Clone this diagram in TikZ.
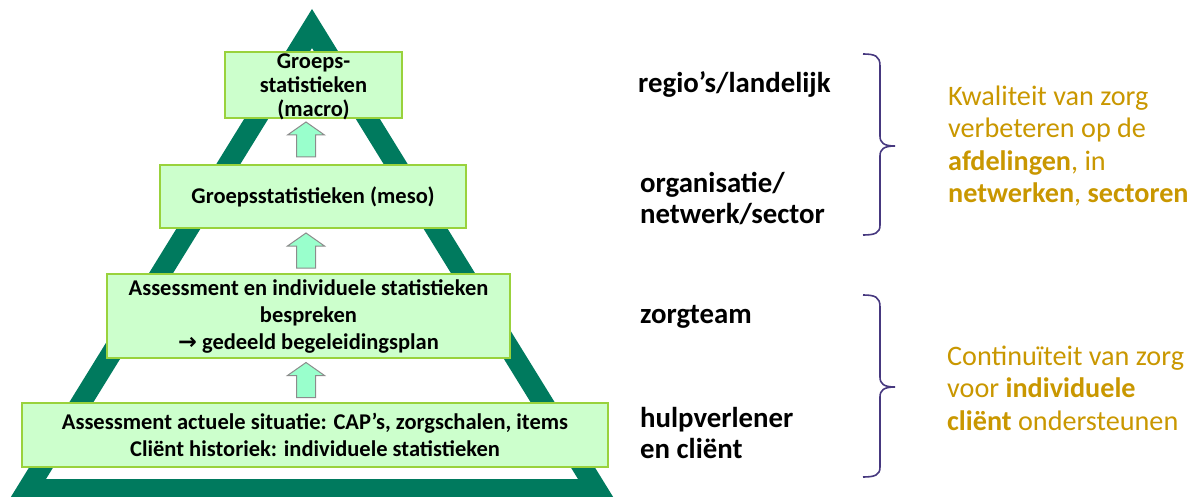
\documentclass[tikz,border=0pt]{standalone}
\usepackage{fontspec}
\setmainfont{Carlito}
\newfontfamily\arrowfont{DejaVu Sans}
\definecolor{pyr}{RGB}{0,122,94}
\definecolor{boxfill}{RGB}{204,255,204}
\definecolor{boxdraw}{RGB}{153,210,60}
\definecolor{arrfill}{RGB}{153,255,204}
\definecolor{arrdraw}{RGB}{140,140,140}
\definecolor{bracecol}{RGB}{70,56,127}
\definecolor{gold}{RGB}{201,151,0}
\tikzset{
  stepbox/.style={draw=boxdraw, fill=boxfill, line width=1.8pt, inner sep=0pt, align=center,
    font=\bfseries\fontsize{22.5}{27}\selectfont},
  midlabel/.style={anchor=base west, align=left, inner sep=0pt,
    font=\bfseries\fontsize{28.8}{31}\selectfont},
  goaltext/.style={anchor=base west, align=left, inner sep=0pt, text=gold,
    font=\fontsize{28.2}{32.5}\selectfont},
  bracepath/.style={draw=bracecol, line width=1.6pt},
  uparrow/.pic={
    \draw[draw=arrdraw, fill=arrfill, line width=1pt]
      (-9.5,0) -- (-9.5,-22) -- (-18.5,-22) -- (0,-35) -- (18.5,-22) -- (9.5,-22) -- (9.5,0) -- cycle;
  }
}
\begin{document}
\begin{tikzpicture}[x=1pt, y=-1pt]
\useasboundingbox (0,0) rectangle (1199,497);
\begin{scope}
\clip (0,0) rectangle (1199,497);
% pyramid
\fill[pyr, even odd rule] (312,9) -- (9,500) -- (615,500) -- cycle
  (312,48) -- (46,479) -- (578,479) -- cycle;
\end{scope}
% boxes
\node[stepbox, minimum width=177pt, minimum height=66pt] (b1) at (313.5,85) {};
\node[align=center, inner sep=0pt, font=\bfseries\fontsize{22.5}{24}\selectfont] (b1t) at (313.5,87) {Groeps-\\statistieken\\(macro)};
\node[stepbox, minimum width=306pt, minimum height=63pt] (b2) at (313,196.5) {Groepsstatistieken (meso)};
\node[stepbox, minimum width=403pt, minimum height=84pt] (b3) at (308.5,316) {Assessment en individuele statistieken\\bespreken\\{\arrowfont\bfseries →} gedeeld begeleidingsplan};
\node[stepbox, minimum width=586pt, minimum height=64pt] (b4) at (315,435) {Assessment actuele situatie: CAP’s, zorgschalen, items\\Cliënt historiek: individuele statistieken};
% block arrows
\pic at (306,157) {uparrow};
\pic at (306,268) {uparrow};
\pic at (306,397.5) {uparrow};
% middle labels (anchor at baseline of last line)
\node[midlabel] (l1) at (638,93) {regio’s/landelijk};
\node[midlabel] (l2) at (640,223) {organisatie/\\netwerk/sector};
\node[midlabel] (l3) at (640,323) {zorgteam};
\node[midlabel] (l4) at (640,458) {hulpverlener\\en cliënt};
% braces
\draw[bracepath] (863,54) .. controls (875,54) and (880,56) .. (880,66) -- (880,136)
  .. controls (880,143) and (884,146) .. (895,146)
  .. controls (884,146) and (880,149) .. (880,156) -- (880,225)
  .. controls (880,233) and (875,235) .. (863,235);
\draw[bracepath] (863,295) .. controls (875,295) and (880,297) .. (880,307) -- (880,377)
  .. controls (880,384) and (884,387) .. (895,387)
  .. controls (884,387) and (880,390) .. (880,397) -- (880,467)
  .. controls (880,475) and (875,477) .. (863,477);
% goal texts (anchor at baseline of last line)
\node[goaltext] (g1) at (948,203) {Kwaliteit van zorg\\verbeteren op de\\\textbf{afdelingen}, in\\\textbf{netwerken}, \textbf{sectoren}};
\node[goaltext] (g2) at (947,430) {Continuïteit van zorg\\voor \textbf{individuele}\\\textbf{cliënt} ondersteunen};
\end{tikzpicture}
\end{document}
